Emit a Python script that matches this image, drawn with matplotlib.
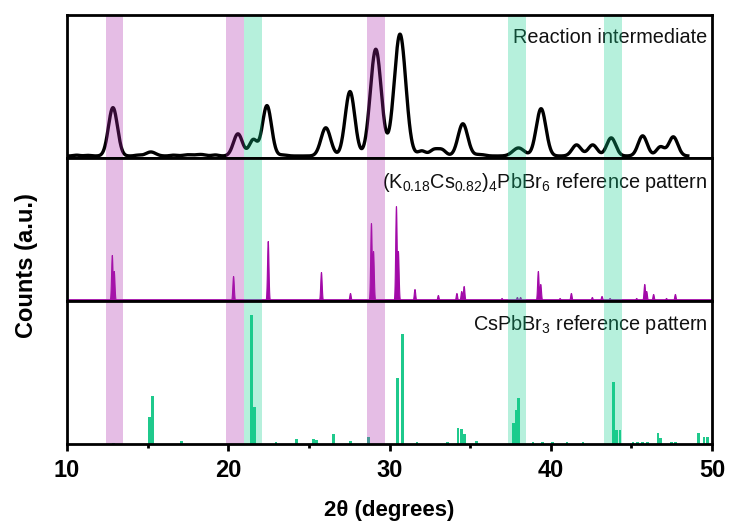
import numpy as np
import matplotlib
matplotlib.use("Agg")
import matplotlib.pyplot as plt
from matplotlib import font_manager

# ---------------- data ----------------
# Reaction intermediate: peak positions (deg), heights, widths (sigma, deg)
int_pos = [10.6, 11.3, 12.85, 14.4, 15.2, 16.6, 17.5, 18.3, 19.2, 20.6, 21.55, 22.4,
           23.4, 26.05, 27.55, 29.15, 30.65, 32.0, 32.75, 33.25, 34.55, 35.6,
           38.0, 39.4, 41.6, 42.6, 43.75, 45.7, 46.8, 47.6]
int_h = [0.8, 0.6, 48, 0.8, 4, 0.8, 1.2, 1.5, 1.0, 22, 16, 50,
         1.0, 28, 64, 106, 121, 5, 6, 6, 32, 1.5,
         8, 47, 11, 11, 18, 20, 9, 19]
int_w = [0.2, 0.2, 0.28, 0.2, 0.3, 0.2, 0.3, 0.3, 0.2, 0.28, 0.25, 0.28,
         0.25, 0.3, 0.3, 0.34, 0.36, 0.25, 0.25, 0.25, 0.3, 0.3,
         0.35, 0.3, 0.28, 0.28, 0.28, 0.28, 0.25, 0.28]
int_range = [10.0, 48.5]
int_base = 2.0

# (K0.18Cs0.82)4PbBr6 reference pattern
kc_pos = [12.78, 12.9, 20.3, 22.45, 25.75, 27.55, 28.85, 28.98, 30.4, 30.52, 31.55,
          33.0, 34.15, 34.45, 34.6, 36.95, 37.9, 38.1, 39.2, 39.35, 40.55, 41.25,
          42.55, 43.15, 43.65, 45.3, 45.8, 45.92, 46.35, 47.15, 47.7]
kc_h = [46, 30, 25, 60, 29, 8, 78, 50, 95, 50, 12,
        6, 8, 10, 15, 3, 4, 4, 30, 17, 3, 8,
        4, 5, 3, 3, 17, 10, 7, 3, 7]

# CsPbBr3 reference pattern
cs_pos = [12.9, 15.12, 15.28, 17.1, 21.45, 21.62, 22.96, 24.25, 25.3, 25.45, 26.55,
          27.6, 28.7, 30.5, 30.82, 31.7, 33.6, 34.25, 34.45, 34.65, 35.4,
          37.68, 37.85, 38.02, 38.9, 39.5, 40.1, 41.0, 42.0, 43.88, 44.08, 44.3,
          45.1, 45.4, 45.7, 46.0, 46.65, 46.8, 47.5, 47.75, 49.15, 49.5, 49.7]
cs_h = [1, 27, 48, 3, 130, 37, 2, 5, 5, 4, 10,
        3, 7, 66, 111, 2, 2, 16, 15, 10, 3,
        21, 34, 46, 2, 2, 2, 2, 2, 62, 14, 14,
        2, 2, 2, 2, 11, 6, 2, 2, 11, 7, 7]

# highlighted regions (deg)
mag_bands = [(12.42, 13.5), (19.86, 20.98), (28.6, 29.7)]
grn_bands = [(20.98, 22.12), (37.35, 38.47), (43.3, 44.4)]

labels = ["Reaction intermediate",
          r"(K$_{0.18}$Cs$_{0.82}$)$_4$PbBr$_6$ reference pattern",
          r"CsPbBr$_3$ reference pattern"]
label_y = [0.845, 0.83, 0.835]
xticks = [10, 20, 30, 40, 50]
xminor = [15, 25, 35, 45]

# ---------------- style ----------------
avail = {f.name for f in font_manager.fontManager.ttflist}
tick_family = ["Liberation Sans Narrow", "Liberation Sans", "DejaVu Sans"]
tick_family = [f for f in tick_family if f in avail] or ["DejaVu Sans"]
plt.rcParams["font.family"] = ["Liberation Sans", "DejaVu Sans"]
plt.rcParams["mathtext.fontset"] = "custom"
plt.rcParams["mathtext.rm"] = "Liberation Sans"
plt.rcParams["mathtext.it"] = "Liberation Sans"

PURPLE = "#A20AA8"
GREEN = "#1FC98C"
MAG_OVER = "#AC26AC"
GRN_OVER = "#10D08C"

fig = plt.figure(figsize=(7.3, 5.25), dpi=100)
left, right, top, bottom = 67 / 730, 712 / 730, 1 - 15 / 525, 1 - 444 / 525
h = (top - bottom) / 3
axes = [fig.add_axes([left, bottom + (2 - i) * h, right - left, h]) for i in range(3)]

ymax = [142, 143, 144]

# top: intermediate
x = np.linspace(int_range[0], int_range[1], 3000)
y = np.full_like(x, int_base)
for p, hh, w in zip(int_pos, int_h, int_w):
    y += hh * np.exp(-0.5 * ((x - p) / w) ** 2)
axes[0].plot(x, y, color="black", lw=2.4, zorder=2, solid_joinstyle="round")

# middle: KCs pattern (narrow peaks)
xm = np.linspace(10, 50, 8000)
ym = np.zeros_like(xm)
for p, hh in zip(kc_pos, kc_h):
    ym = np.maximum(ym, hh * np.exp(-0.5 * ((xm - p) / 0.045) ** 2))
axes[1].fill_between(xm, 0, ym, color=PURPLE, lw=0.8, edgecolor=PURPLE, zorder=2)
axes[1].axhline(0.6, color=PURPLE, lw=2.0, zorder=2)

# bottom: CsPbBr3 pattern
axes[2].bar(cs_pos, cs_h, width=0.17, color=GREEN, zorder=2, linewidth=0)

for i, ax in enumerate(axes):
    ax.set_xlim(10, 50)
    ax.set_ylim(0, ymax[i])
    ax.set_yticks([])
    for a, b in mag_bands:
        ax.axvspan(a, b, color=MAG_OVER, alpha=0.3, lw=0, zorder=3)
    for a, b in grn_bands:
        ax.axvspan(a, b, color=GRN_OVER, alpha=0.3, lw=0, zorder=3)
    for s in ax.spines.values():
        s.set_linewidth(2.0)
        s.set_zorder(4)
    ax.text(0.993, label_y[i], labels[i], transform=ax.transAxes, ha="right", va="center",
            fontsize=14.3, color="#111111", zorder=1)
    if i < 2:
        ax.set_xticks([])
        ax.tick_params(axis="x", which="both", length=0, labelbottom=False)

axes[2].set_xticks(xticks)
axes[2].set_xticks(xminor, minor=True)
axes[2].tick_params(axis="x", which="major", direction="out", length=5, width=2, pad=6)
axes[2].tick_params(axis="x", which="minor", direction="out", length=3, width=2)
for lab in axes[2].get_xticklabels():
    lab.set_fontfamily(tick_family)
    lab.set_fontweight("bold")
    lab.set_fontsize(17)
axes[2].set_xlabel("2θ (degrees)", fontsize=16, fontweight="bold",
                   family=tick_family, labelpad=13)
fig.text(0.036, 0.495, "Counts (a.u.)", rotation=90, ha="center",
         va="center", fontsize=17, fontweight="bold", family=tick_family)

fig.savefig("out.png", dpi=100)
